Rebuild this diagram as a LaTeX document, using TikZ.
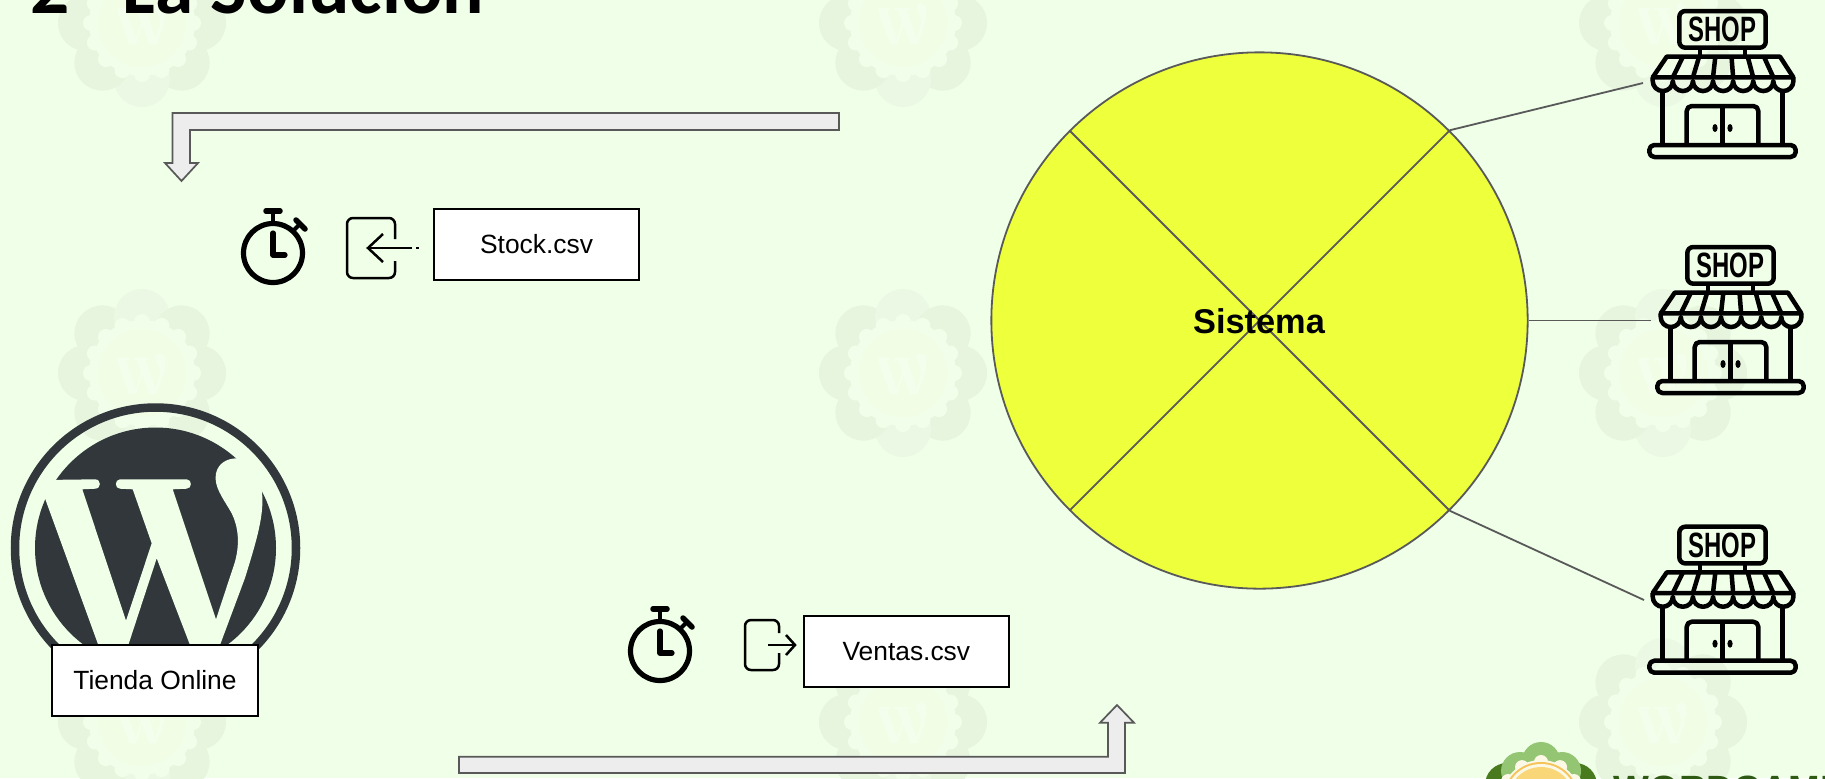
\documentclass[tikz,border=0pt]{standalone}
\usepackage{fontspec}
\setmainfont{Liberation Sans}
\newfontfamily\titlefont{Carlito}
\usepackage{tikz}
\definecolor{fondo}{HTML}{EFFFE8}
\definecolor{lobeA}{HTML}{E7F5DF}
\definecolor{lobeB}{HTML}{EBF9E4}
\definecolor{lobeC}{HTML}{F1FEE9}
\definecolor{lobeD}{HTML}{F2FDE6}
\definecolor{lobeE}{HTML}{F3FFEC}
\definecolor{wpdark}{HTML}{32373C}
\definecolor{amarillo}{HTML}{EEFF3C}
\definecolor{gris}{HTML}{595959}
\definecolor{hojaA}{HTML}{4A7A1E}
\definecolor{hojaB}{HTML}{93C572}
\definecolor{crema}{HTML}{FBF8E6}
\definecolor{aro}{HTML}{F6C35A}
\definecolor{sol}{HTML}{F9D678}
\definecolor{wcverde}{HTML}{2F5A14}
\newcommand{\wmarkpath}{(45,498.3) -- (43,480) -- (95,479.3) .. controls (101.5,479.3) and (101.5,488.7) .. (95,488.7) -- (82.3,489.3) -- (126,620.7) -- (151.7,543.3) -- (132.7,489.3) -- (120,488.7) .. controls (114.5,488.7) and (114.5,479.3) .. (120,479.3) -- (186.7,479.3) .. controls (192.2,479.3) and (192.2,488.7) .. (186.7,488.7) -- (172.7,489.3) -- (216,619.3) -- (235,561.7) .. controls (240,543.3) and (238.3,526.7) .. (231.7,513.3) .. controls (223.3,498.3) and (213.3,486.7) .. (216,473.3) .. controls (218.3,463.3) and (226.7,458.3) .. (237.3,458.3) -- (263.3,476.7) -- (261.7,490) .. controls (265,513.3) and (256.7,540) .. (245,578) -- (220,645) -- (190,645) -- (156.7,558.3) -- (128.3,645) -- (98.3,645) -- cycle}
\tikzset{
    caja/.style={draw=black,fill=white,line width=0.019cm,minimum width=2.05cm,minimum height=0.71cm,inner sep=0pt,font=\fontsize{7.5}{9}\selectfont},
    flecha/.style={draw=gris,fill=black!7,line width=0.017cm,line join=miter},
    enlace/.style={draw=gris,line width=0.018cm},
    icono/.style={draw=black,line width=0.025cm,rounded corners=0.06cm}
}
\begin{document}
\begin{tikzpicture}[x=0.01cm,y=-0.01cm]
        \path[use as bounding box,clip] (0,0) rectangle (1825,778);
        \fill[fondo] (0,0) rectangle (1825,778);
        \foreach \fx in {142,903,1663}
        {
            \foreach \fy in {23,373,722}
            {
                \foreach \a/\c in {0/lobeA,45/lobeA,90/lobeB,135/lobeA,180/lobeA,225/lobeA,270/lobeB,315/lobeA}
                {
                    \fill[\c] ([shift={(\fx,\fy)}]\a:56) circle[radius=28];
                }
                \foreach \a in {0,22.5,...,337.5}
                {
                    \fill[lobeC] ([shift={(\fx,\fy)}]\a:51) circle[radius=8];
                }
                \fill[lobeC] (\fx,\fy) circle[radius=53];
                \fill[lobeD] (\fx,\fy) circle[radius=44];
                \begin{scope}[shift={(\fx,\fy)},scale=0.22,shift={(-155.5,-548)}]
                    \clip (155.5,548) circle[radius=130];
                    \fill[lobeE] \wmarkpath;
                \end{scope}
            }
        }
        \node[anchor=base west,inner sep=0pt,font=\titlefont\bfseries\fontsize{22}{26}\selectfont] (titulo) at (30,13) {2\hspace{0.525cm}La Solución};
        % logo
        \draw[wpdark,line width=0.085cm] (155.5,548) circle[radius=140.5];
        \fill[wpdark] (155.5,548) circle[radius=120.5];
        \fill[fondo] \wmarkpath;
        \node[caja] (tienda) at (155,680.5) {Tienda Online};
        % bent arrows
        \draw[flecha] (839,113) -- (172.5,113) -- (172.5,163) -- (165,163) -- (181.5,181) -- (198,163) -- (190,163) -- (190,130) -- (839,130) -- cycle;
        \draw[flecha] (459,756.7) -- (1108,756.7) -- (1108,722.7) -- (1100,722.7) -- (1117,705) -- (1134,722.7) -- (1125,722.7) -- (1125,773) -- (459,773) -- cycle;
        \node[caja] (stock) at (536.5,244.5) {Stock.csv};
        \node[caja] (ventas) at (906.3,651.2) {Ventas.csv};
        \foreach \n/\x/\y in {a/273/253,b/660/651}
        {
            \draw[line width=0.052cm] (\x,\y) circle[radius=29.5];
            \draw[line width=0.045cm] (\x,\y-32) -- (\x,\y-42);
            \draw[line width=0.055cm,line cap=round] (\x-7,\y-42) -- (\x+7,\y-42);
            \draw[line width=0.04cm] (\x+20,\y-22) -- (\x+28,\y-30);
            \draw[line width=0.055cm,line cap=round] (\x+23,\y-33) -- (\x+32,\y-24);
            \draw[line width=0.052cm,line cap=round,line join=round] (\x,\y-20) -- (\x,\y+2) -- (\x+12,\y+2);
        }
        \draw[icono] (395,239) -- (395,218) -- (347,218) -- (347,278) -- (395,278) -- (395,261);
        \draw[line width=0.025cm] (412,248) -- (368,248);
        \draw[line width=0.025cm] (383,234) -- (368,248) -- (383,262);
        \draw[line width=0.025cm] (416,248) -- (419,248);
        \draw[icono] (779,633) -- (779,620) -- (745,620) -- (745,670) -- (779,670) -- (779,653);
        \draw[line width=0.025cm] (768,645) -- (795,645);
        \draw[line width=0.025cm] (786,635) -- (795,645) -- (786,655);
        % system
        \node[circle,draw=gris,fill=amarillo,line width=0.018cm,minimum size=5.36cm,inner sep=0pt] (circulo) at (1259.5,320.5) {};
        \draw[enlace] (circulo.45) -- (circulo.225);
        \draw[enlace] (circulo.135) -- (circulo.315);
        \node[font=\bfseries\fontsize{9.77}{12}\selectfont,inner sep=0pt] (sistema) at (1259,321) {Sistema};
        % shops
        \foreach \n/\x/\y in {A/1620/0,B/1628/236,C/1620/515.7}
        {
            \begin{scope}[shift={(\x,\y)},line width=0.045cm,line join=round]
                \draw[rounded corners=0.06cm] (59.3,11) rectangle (145.7,47.7);
                \node[font=\bfseries\fontsize{10}{11}\selectfont,xscale=0.68,inner sep=0pt] (letrero\n) at (102.5,29.3) {SHOP};
                \draw (80,48) -- (80,56);
                \draw (125,48) -- (125,56);
                \draw (46.7,56.7) -- (160,56.7) -- (173.3,77.3) -- (32.7,77.3) -- cycle;
                \foreach \i in {1,...,6}
                {
                    \draw (46.7+\i*16.2,56.7) -- (32.7+\i*20.1,77.3);
                }
                \draw (32.7,77.3) -- (32.7,81) arc[start angle=180,end angle=0,radius=10.05]
                    arc[start angle=180,end angle=0,radius=10.05]
                    arc[start angle=180,end angle=0,radius=10.05]
                    arc[start angle=180,end angle=0,radius=10.05]
                    arc[start angle=180,end angle=0,radius=10.05]
                    arc[start angle=180,end angle=0,radius=10.05]
                    arc[start angle=180,end angle=0,radius=10.05] -- (173.3,77.3);
                \draw (42.7,91) -- (42.7,145);
                \draw (162.3,91) -- (162.3,145);
                \draw[rounded corners=0.05cm] (66.7,145) -- (66.7,106) -- (138.3,106) -- (138.3,145);
                \draw (102.7,106) -- (102.7,145);
                \fill (95,128) ellipse[x radius=2.6,y radius=4];
                \fill (110,128) ellipse[x radius=2.6,y radius=4];
                \draw[rounded corners=0.05cm] (29.3,145) rectangle (175.7,157);
            \end{scope}
        }
        \coordinate (puertaA) at (1643,83);
        \coordinate (puertaB) at (1651,320.5);
        \coordinate (puertaC) at (1644,600);
        \draw[enlace] (circulo.45) -- (puertaA);
        \draw[enlace] (circulo.0) -- (puertaB);
        \draw[enlace] (circulo.315) -- (puertaC);
        % corner logo
        \foreach \cx/\cy in {1507/785,1575/785}
        {
            \fill[hojaA] (\cx,\cy) circle[radius=22];
        }
        \foreach \cx/\cy in {1541/761,1520/771,1562/771}
        {
            \fill[hojaB] (\cx,\cy) circle[radius=19];
        }
        \foreach \a in {210,240,270,300,330}
        {
            \fill[crema] ([shift={(1541,800)}]\a:38) circle[radius=7];
        }
        \fill[crema] (1541,800) circle[radius=40];
        \fill[aro] (1541,800) circle[radius=38];
        \fill[crema] (1541,800) circle[radius=36];
        \fill[sol] (1541,800) circle[radius=33];
        \node[anchor=base west,inner sep=0pt,text=wcverde,font=\bfseries\fontsize{10.8}{12}\selectfont] (wordcamp) at (1613,802) {WORDCAMP};
    \end{tikzpicture}
\end{document}
